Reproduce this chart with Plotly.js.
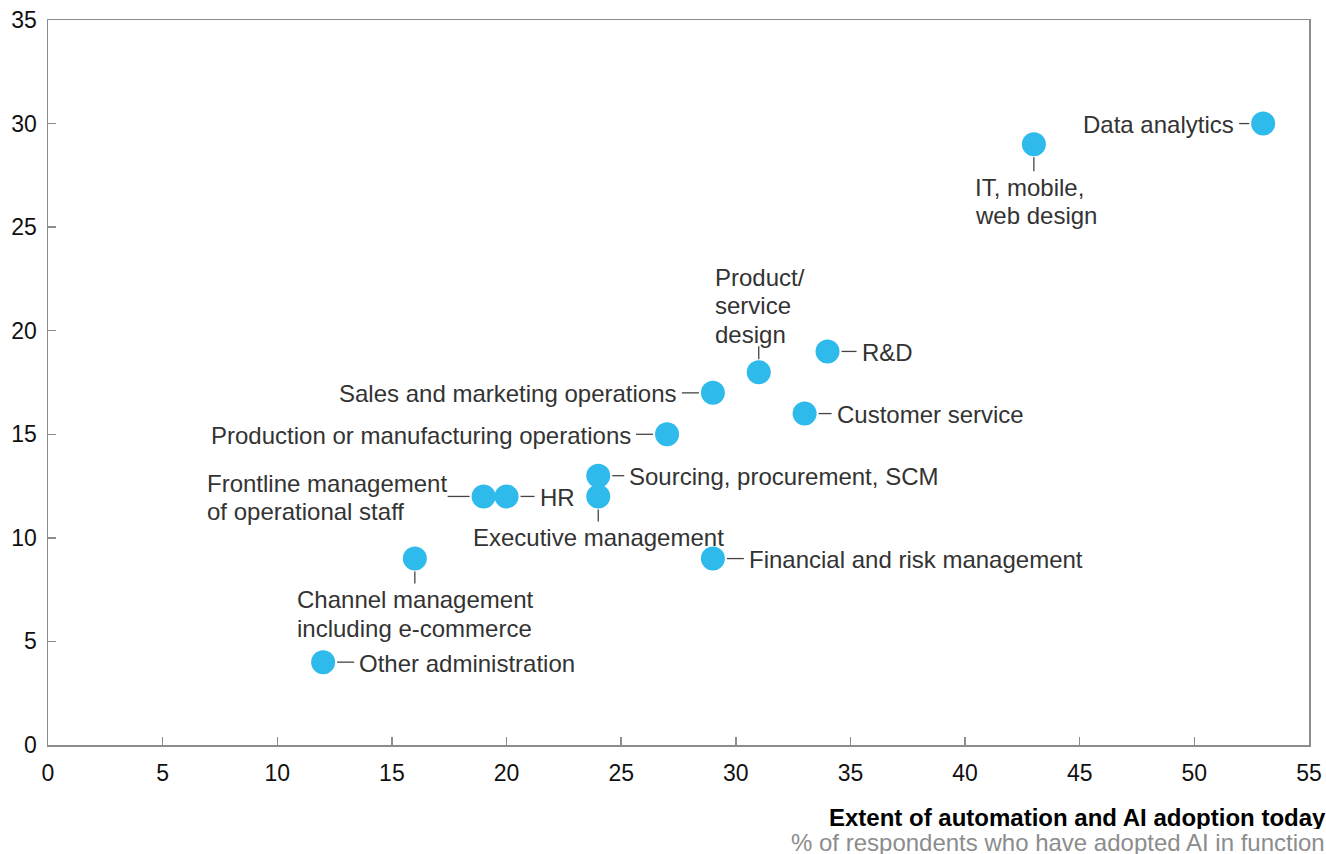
<!DOCTYPE html>
<html>
<head>
<meta charset="utf-8">
<script src="https://cdn.plot.ly/plotly-3.0.1.min.js"></script>
<style>html,body{margin:0;padding:0;background:#fff;}#chart{width:1326px;height:854px;}</style>
</head>
<body>
<div id="chart"></div>
<script>
// Data
const functions = ["Data analytics","IT, mobile,|web design","Product/|service|design","R&D","Sales and marketing operations","Customer service","Production or manufacturing operations","Sourcing, procurement, SCM","Executive management","HR","Frontline management|of operational staff","Financial and risk management","Channel management|including e-commerce","Other administration"];
const adoptionToday = [53,43,31,34,29,33,27,24,24,20,19,29,16,12];
const adoptionFuture = [30,29,18,19,17,16,15,13,12,12,12,9,9,4];
const xTicks = [0,5,10,15,20,25,30,35,40,45,50,55];
const yTicks = [0,5,10,15,20,25,30,35];

// Label placement (style)
const side = ["left","below","above","right","left","right","left","right","below","right","left","right","below","right"];
const leadLen = [10,14,13,15,17,13,17,12,12,14,22,17,12,17];
const blockShift = [null,-61,-46,null,null,null,null,null,null,null,-279,null,-120,null];

const R = 12, GAP = 2, TGAP = 3, LH = 28.5;
const textColor = "#333333";
const fontFam = "Liberation Sans, Arial, sans-serif";
const FS = 24;

const shapes = [], annotations = [];
for (let i = 0; i < functions.length; i++) {
  const x = adoptionToday[i], y = adoptionFuture[i], s = side[i], L = leadLen[i];
  const lines = functions[i].split("|");
  const n = lines.length;
  const line = {type:"line", line:{color:"#444", width:1.3}, layer:"below"};
  const d = (s === "right" || s === "above") ? 1 : -1;
  if (s === "left" || s === "right") {
    Object.assign(line, {xref:"x", yref:"y", xsizemode:"pixel", xanchor:x,
      x0:d*(R+GAP), x1:d*(R+GAP+L), y0:y, y1:y});
  } else {
    Object.assign(line, {xref:"x", yref:"y", ysizemode:"pixel", yanchor:y,
      y0:d*(R+GAP-1), y1:d*(R+GAP-1+L), x0:x, x1:x});
  }
  shapes.push(line);
  lines.forEach((t, k) => {
    const ann = {x:x, y:y, xref:"x", yref:"y", text:t, showarrow:false,
      font:{family:fontFam, size:FS, color:textColor}, yanchor:"middle"};
    if (s === "left" || s === "right") {
      ann.yshift = -1 + ((n - 1) / 2 - k) * LH;
      if (blockShift[i] !== null) { ann.xanchor = "left"; ann.xshift = blockShift[i]; }
      else { ann.xanchor = s === "right" ? "left" : "right"; ann.xshift = d*(R+GAP+L+TGAP); }
    } else {
      const first = R + GAP + L + TGAP + 12;
      if (s === "below") ann.yshift = -(first + k * LH);
      else ann.yshift = first - 4 + (n - 1 - k) * LH;
      if (blockShift[i] !== null) { ann.xanchor = "left"; ann.xshift = blockShift[i]; }
      else { ann.xanchor = "center"; }
    }
    annotations.push(ann);
  });
}

annotations.push({xref:"paper", yref:"paper", x:1, y:0, xanchor:"right", yanchor:"middle",
  xshift:18, yshift:-72, showarrow:false, height:24, borderpad:0, text:"<b>Extent of automation and AI adoption today</b>",
  font:{family:fontFam, size:FS, color:"#000"}});
annotations.push({xref:"paper", yref:"paper", x:1, y:0, xanchor:"right", yanchor:"middle",
  xshift:17, yshift:-97, showarrow:false, height:24, borderpad:0, text:"% of respondents who have adopted AI in function",
  font:{family:fontFam, size:FS, color:"#8c8c8c"}});

const trace = {x:adoptionToday, y:adoptionFuture, type:"scatter", mode:"markers",
  marker:{size:24, color:"#2FBAEC", line:{width:0}}, hoverinfo:"skip"};

const axisCommon = {showgrid:false, zeroline:false, showline:true, linecolor:"#8c8c8c", linewidth:1.5,
  mirror:true, ticks:"inside", ticklen:8, tickcolor:"#8c8c8c", tickwidth:1.5,
  tickfont:{family:fontFam, size:23, color:"#111"}, fixedrange:true};

const layout = {
  width:1326, height:854, margin:{l:48, r:17, t:20, b:109},
  paper_bgcolor:"#fff", plot_bgcolor:"#fff", showlegend:false,
  xaxis:Object.assign({}, axisCommon, {range:[0,55], tickmode:"array", tickvals:xTicks, ticklabelstandoff:7}),
  yaxis:Object.assign({}, axisCommon, {range:[0,35], tickmode:"array", tickvals:yTicks, ticklabelstandoff:5}),
  shapes:shapes, annotations:annotations
};

Plotly.newPlot("chart", [trace], layout, {displayModeBar:false, staticPlot:true});
</script>
</body>
</html>
